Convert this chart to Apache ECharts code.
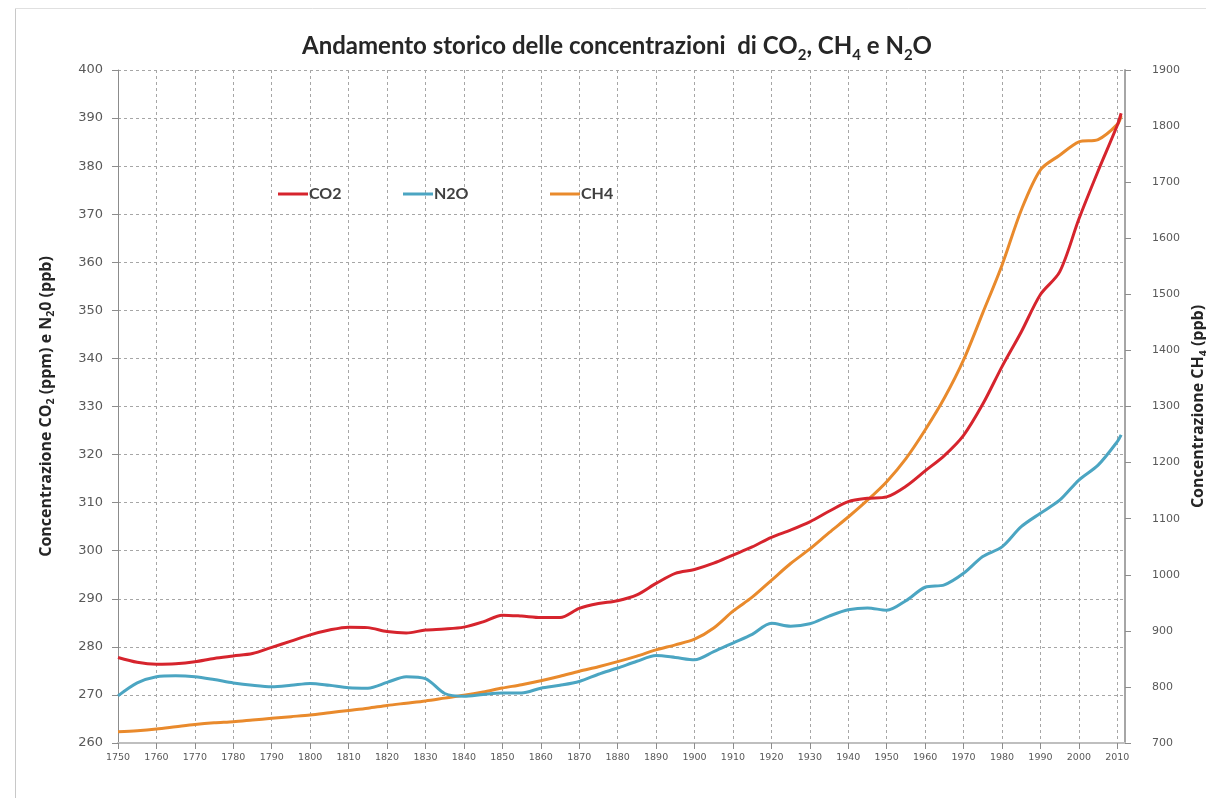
<!DOCTYPE html>
<html>
<head>
<meta charset="utf-8">
<title>Andamento storico delle concentrazioni di CO2, CH4 e N2O</title>
<script src="https://cdn.jsdelivr.net/npm/echarts@6/dist/echarts.min.js"></script>
<style>
  html, body { margin: 0; padding: 0; background: #ffffff; }
  #chart { width: 1206px; height: 798px; }
</style>
</head>
<body>
<div id="chart"></div>
<script>
// Years of the samples (every 5 years, plus the last available year)
const years = [1750,1755,1760,1765,1770,1775,1780,1785,1790,1795,
               1800,1805,1810,1815,1820,1825,1830,1835,1840,1845,
               1850,1855,1860,1865,1870,1875,1880,1885,1890,1895,
               1900,1905,1910,1915,1920,1925,1930,1935,1940,1945,
               1950,1955,1960,1965,1970,1975,1980,1985,1990,1995,
               2000,2005,2010,2011];

// CO2 concentration (ppm) – left axis
const co2 = [277.8,276.8,276.4,276.5,276.9,277.6,278.1,278.6,279.9,281.2,
             282.5,283.5,284.1,284.0,283.2,282.9,283.5,283.7,284.1,285.2,
             286.6,286.4,286.1,286.1,288.0,289.0,289.6,290.8,293.2,295.3,
             296.1,297.4,299.1,300.8,302.8,304.3,306.0,308.2,310.2,310.9,
             311.2,313.4,316.6,319.8,324.0,330.5,338.3,345.5,353.3,358.0,
             369.0,379.0,388.5,391.0];

// N2O concentration (ppb) – left axis
const n2o = [269.8,272.5,273.8,274.0,273.8,273.2,272.5,272.0,271.7,272.0,
             272.4,272.0,271.5,271.4,272.6,273.8,273.4,270.3,269.7,270.1,
             270.4,270.4,271.4,272.0,272.8,274.3,275.6,277.0,278.2,277.8,
             277.3,279.0,280.8,282.6,284.9,284.3,284.8,286.4,287.7,288.1,
             287.6,289.6,292.4,292.9,295.3,298.8,300.8,305.0,307.8,310.5,
             314.7,317.8,322.7,324.1];

// CH4 concentration (ppb) – right axis
const ch4 = [720,722,725,729,733,736,738,741,744,747,
             750,754,758,762,767,771,775,780,785,791,
             798,804,811,819,828,836,845,855,866,875,
             885,905,935,960,990,1020,1046,1075,1103,1133,
             1166,1207,1258,1315,1383,1467,1552,1650,1722,1748,
             1772,1776,1803,1818];

const seriesColors = { CO2: '#d6242d', N2O: '#4ba5c2', CH4: '#e98a2c' };

const pairs = vals => years.map((y, i) => [y, vals[i]]);

const labelGray = '#595959';
const gridLine = { show: true, lineStyle: { color: '#a6a6a6', type: [3, 3], width: 1 } };
const nameRich = {
  n: { fontFamily: 'Open Sans', fontWeight: 'bold', fontSize: 16, color: '#262626', lineHeight: 19, verticalAlign: 'bottom' },
  s: { fontFamily: 'Open Sans', fontWeight: 'bold', fontSize: 10.5, color: '#262626', lineHeight: 12, verticalAlign: 'bottom', padding: [0, 0, -3, 0] }
};

const chart = echarts.init(document.getElementById('chart'), null, { renderer: 'canvas' });

const legendFor = (name, left) => ({
  data: [name],
  left: left,
  top: 181,
  itemWidth: 30,
  itemHeight: 3,
  icon: 'rect',
  textStyle: { fontFamily: 'Lato', fontWeight: 'bold', fontSize: 16, color: '#404040', padding: [0, 0, 0, -4] }
});

chart.setOption({
  backgroundColor: '#ffffff',
  animation: false,
  title: {
    text: '{a|Andamento storico delle concentrazioni  di CO}{s|2}{a|, CH}{s|4}{a| e N}{s|2}{a|O}',
    left: 297,
    top: 23,
    textStyle: {
      rich: {
        a: { fontFamily: 'Lato', fontWeight: 'bold', fontSize: 24, color: '#262626', lineHeight: 30, verticalAlign: 'bottom' },
        s: { fontFamily: 'Lato', fontWeight: 'bold', fontSize: 15, color: '#262626', lineHeight: 16, verticalAlign: 'bottom', padding: [0, 0, -5, 0] }
      }
    }
  },
  legend: [legendFor('CO2', 273), legendFor('N2O', 398), legendFor('CH4', 545)],
  grid: { left: 118, right: 81, top: 70, bottom: 55, containLabel: false, outerBoundsMode: 'none' },
  xAxis: {
    type: 'value',
    min: 1750,
    max: 2012,
    interval: 10,
    axisLine: { show: true, lineStyle: { color: '#bfbfbf', width: 2 } },
    axisTick: { show: true, length: 6, lineStyle: { color: '#8c8c8c' } },
    axisLabel: {
      color: labelGray, fontFamily: 'DejaVu Sans', fontSize: 9.5, margin: 10,
      showMaxLabel: false,
      formatter: v => String(v)
    },
    splitLine: gridLine
  },
  yAxis: [
    {
      type: 'value',
      min: 260,
      max: 400,
      interval: 10,
      position: 'left',
      name: '{n|Concentrazione CO}{s|2}{n| (ppm) e N}{s|2}{n|0 (ppb)}',
      nameLocation: 'middle',
      nameGap: 64,
      nameRotate: 90,
      nameTextStyle: { rich: nameRich },
      axisLine: { show: true, lineStyle: { color: '#8c8c8c', width: 1 } },
      axisTick: { show: true, length: 6, lineStyle: { color: '#8c8c8c' } },
      axisLabel: { color: labelGray, fontFamily: 'DejaVu Sans', fontSize: 13, margin: 15, formatter: v => String(v) },
      splitLine: gridLine
    },
    {
      type: 'value',
      min: 700,
      max: 1900,
      interval: 100,
      position: 'right',
      name: '{n|Concentrazione CH}{s|4}{n| (ppb)}',
      nameLocation: 'middle',
      nameGap: 61,
      nameRotate: 90,
      nameTextStyle: { rich: nameRich },
      axisLine: { show: true, lineStyle: { color: '#a6a6a6', width: 2 } },
      axisTick: { show: true, length: 6, lineStyle: { color: '#8c8c8c' } },
      axisLabel: { color: labelGray, fontFamily: 'DejaVu Sans', fontSize: 11, margin: 27, formatter: v => String(v) },
      splitLine: { show: false }
    }
  ],
  series: [
    {
      name: 'CH4', type: 'line', yAxisIndex: 1, data: pairs(ch4),
      showSymbol: false, smooth: 0.3,
      lineStyle: { width: 3, color: seriesColors.CH4 }, itemStyle: { color: seriesColors.CH4 }
    },
    {
      name: 'N2O', type: 'line', yAxisIndex: 0, data: pairs(n2o),
      showSymbol: false, smooth: 0.3,
      lineStyle: { width: 3, color: seriesColors.N2O }, itemStyle: { color: seriesColors.N2O }
    },
    {
      name: 'CO2', type: 'line', yAxisIndex: 0, data: pairs(co2),
      showSymbol: false, smooth: 0.3,
      lineStyle: { width: 3, color: seriesColors.CO2 }, itemStyle: { color: seriesColors.CO2 }
    }
  ],
  graphic: [
    // thin frame around the chart area
    { type: 'line', shape: { x1: 15.5, y1: 8, x2: 15.5, y2: 798 }, style: { stroke: '#c8c8c8', lineWidth: 1 }, silent: true },
    { type: 'line', shape: { x1: 15, y1: 8.5, x2: 1206, y2: 8.5 }, style: { stroke: '#e0e0e0', lineWidth: 1 }, silent: true }
  ]
});
</script>
</body>
</html>
